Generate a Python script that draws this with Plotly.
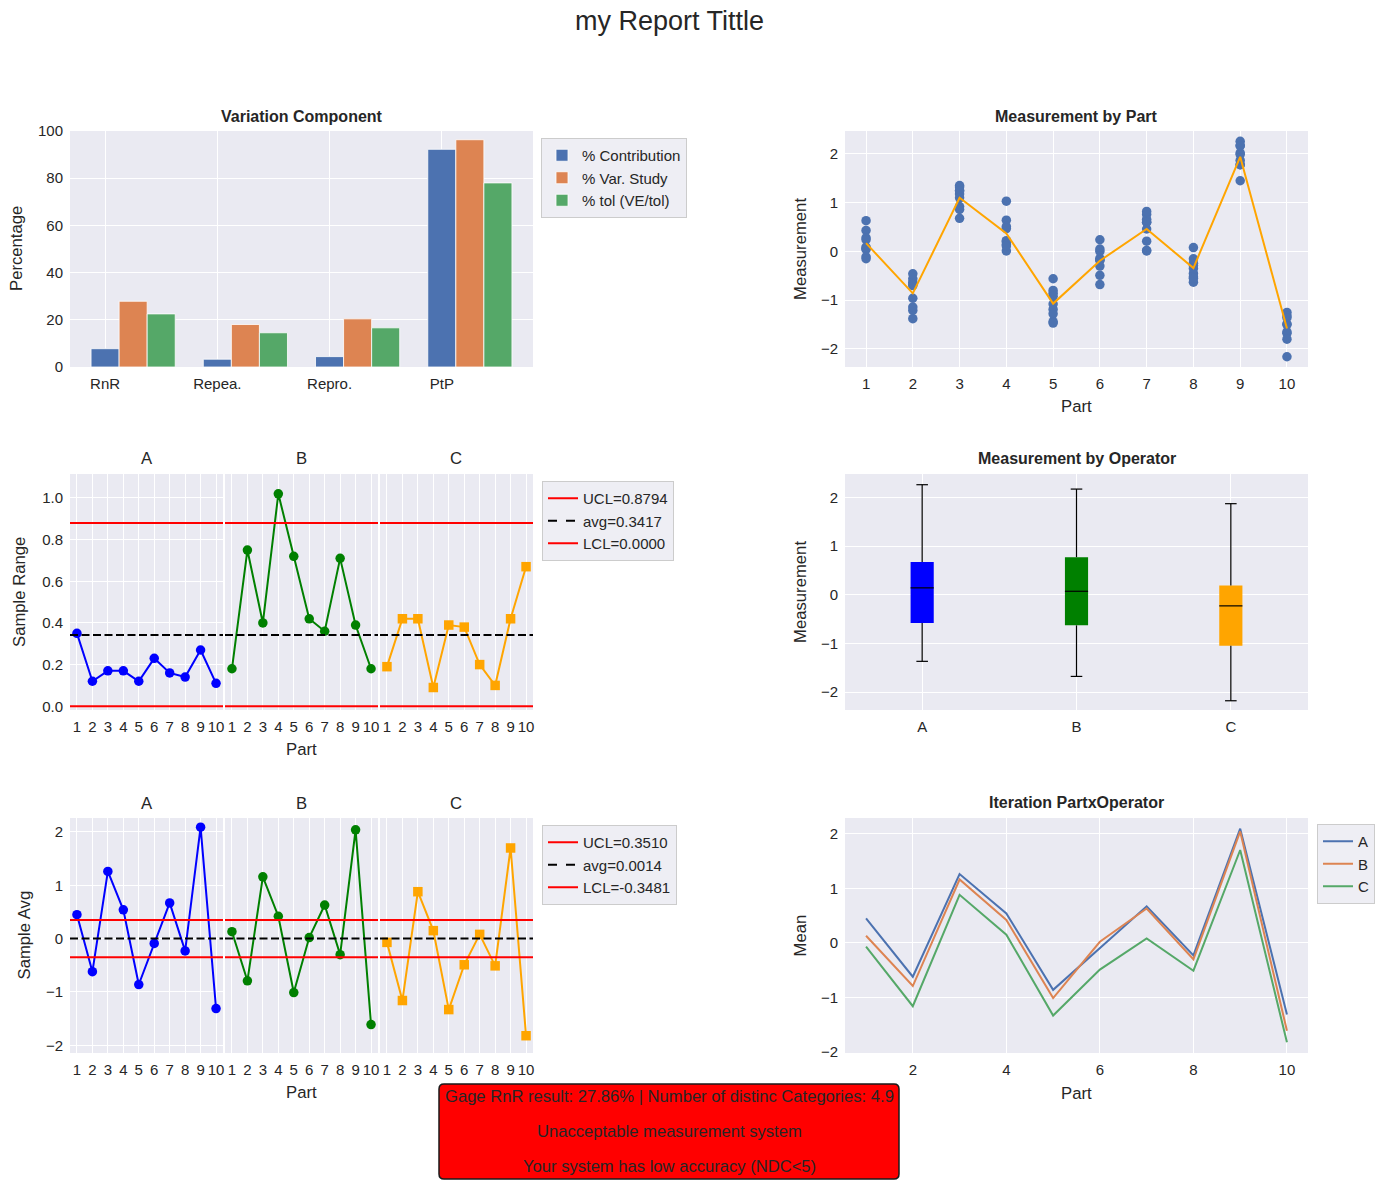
import numpy as np
import plotly.graph_objects as go

# ---------------- data ----------------
components = ["RnR", "Repea.", "Repro.", "PtP"]
pct_contribution = [7.76, 3.3, 4.4, 92.24]
pct_var_study = [27.86, 18.0, 20.4, 96.3]
pct_tolerance = [22.5, 14.5, 16.6, 78.0]

parts = [1, 2, 3, 4, 5, 6, 7, 8, 9, 10]
operators = ["A", "B", "C"]
n_trials = 3

meas_A = [0.63, 0.43, 0.28, -0.56, -0.63, -0.68, 1.35, 1.25, 1.18, 0.64, 0.51, 0.47,
          -0.80, -0.86, -0.92, 0.05, -0.14, -0.18, 0.76, 0.66, 0.60, -0.15, -0.24, -0.29,
          2.26, 2.02, 1.99, -1.25, -1.32, -1.36]
meas_B = [0.24, 0.09, 0.06, -0.46, -0.70, -1.21, 1.32, 1.24, 0.92, 1.03, 0.22, 0.01,
          -0.56, -1.19, -1.28, 0.24, 0.00, -0.18, 0.82, 0.60, 0.46, 0.08, -0.35, -0.63,
          2.17, 2.17, 1.78, -1.50, -1.65, -1.68]
meas_C = [0.04, -0.11, -0.15, -0.96, -1.14, -1.38, 1.10, 0.86, 0.68, 0.20, 0.14, 0.11,
          -1.08, -1.44, -1.47, -0.30, -0.49, -0.68, 0.21, 0.02, 0.01, -0.45, -0.52, -0.55,
          1.87, 1.78, 1.45, -1.49, -1.80, -2.16]
part_mean = [0.17, -0.86, 1.10, 0.37, -1.07, -0.19, 0.46, -0.34, 1.94, -1.58]

range_A = [0.35, 0.12, 0.17, 0.17, 0.12, 0.23, 0.16, 0.14, 0.27, 0.11]
range_B = [0.18, 0.75, 0.40, 1.02, 0.72, 0.42, 0.36, 0.71, 0.39, 0.18]
range_C = [0.19, 0.42, 0.42, 0.09, 0.39, 0.38, 0.20, 0.10, 0.42, 0.67]
range_ucl, range_avg, range_lcl = 0.8794, 0.3417, 0.0000

avg_A = [0.45, -0.62, 1.26, 0.54, -0.86, -0.09, 0.67, -0.23, 2.09, -1.31]
avg_B = [0.13, -0.79, 1.16, 0.42, -1.01, 0.02, 0.63, -0.30, 2.04, -1.61]
avg_C = [-0.07, -1.16, 0.88, 0.15, -1.33, -0.49, 0.08, -0.51, 1.70, -1.82]
avg_ucl, avg_center, avg_lcl = 0.3510, 0.0014, -0.3481

box_pos = [1, 2, 3]
box_low = [-1.37, -1.68, -2.18]
box_q1 = [-0.58, -0.63, -1.05]
box_median = [0.14, 0.07, -0.23]
box_q3 = [0.67, 0.77, 0.19]
box_high = [2.26, 2.17, 1.87]

gage_rnr = 27.86
ndc = 4.9

# ---------------- style ----------------
W, H = 1392, 1184
FONT = "Liberation Sans, Arial, sans-serif"
TXT = "#262626"
BG = "#eaeaf2"
DEEP = ["#4c72b0", "#dd8452", "#55a868"]
OP_COL = ["blue", "green", "orange"]
OP_SYM = ["circle", "circle", "square"]
TICK = 15
LAB = 16.7


def px_x(p):
    return p / W


def px_y(p):
    return 1 - p / H


layout = dict(
    width=W, height=H, margin=dict(l=0, r=0, t=0, b=0),
    paper_bgcolor="white", plot_bgcolor=BG,
    font=dict(family=FONT, color=TXT, size=TICK),
    barmode="overlay", showlegend=True,
)
annotations = []
shapes = []


def add_axes(n, xpx, ypx, xr, yr, xgrid=True, ygrid=True, yticks=True, **kw):
    xs = "" if n == 1 else str(n)
    base = dict(showline=False, zeroline=False, ticks="", gridcolor="white",
                gridwidth=1, automargin=False, tickfont=dict(size=TICK, color=TXT),
                ticklabelstandoff=6)
    xa = dict(base, domain=[px_x(xpx[0]), px_x(xpx[1])], range=xr, showgrid=xgrid,
              anchor="y" + xs)
    ya = dict(base, domain=[px_y(ypx[1]), px_y(ypx[0])], range=yr, showgrid=ygrid,
              anchor="x" + xs, showticklabels=yticks)
    xa.update(kw.get("xkw", {}))
    ya.update(kw.get("ykw", {}))
    layout["xaxis" + xs] = xa
    layout["yaxis" + xs] = ya


def text(x, y, s, size=LAB, angle=0, bold=False):
    annotations.append(dict(
        x=px_x(x), y=px_y(y), xref="paper", yref="paper", showarrow=False,
        text=("<b>%s</b>" % s) if bold else s, textangle=angle,
        font=dict(family=FONT, size=size, color=TXT),
        xanchor="center", yanchor="middle"))


COL_L = (70, 533)
COL_R = (845, 1308)
ROW1 = (131, 367)
ROW2 = (474, 710)
ROW3 = (818, 1053)
FACETS = [(70, 223), (225, 378), (380, 533)]

fig = go.Figure()

# ---- 1: Variation component bars ----
bar_w = 0.25
idx = np.arange(len(components))
add_axes(1, COL_L, ROW1, [-0.3125, 3.8125], [0, 100],
         xkw=dict(tickvals=list(idx), ticktext=components),
         ykw=dict(tickvals=[0, 20, 40, 60, 80, 100]))
for k, (vals, name) in enumerate(zip([pct_contribution, pct_var_study, pct_tolerance],
                                     ["% Contribution", "% Var. Study", "% tol (VE/tol)"])):
    fig.add_trace(go.Bar(x=idx + k * bar_w, y=vals, width=bar_w, name=name,
                         marker=dict(color=DEEP[k], line=dict(color="white", width=0.8)),
                         xaxis="x", yaxis="y", legend="legend"))
text(301.5, 116, "Variation Component", size=16, bold=True)
text(16, 249, "Percentage", angle=-90)

# ---- 2: Measurement by part ----
add_axes(2, COL_R, ROW1, [0.55, 10.45], [-2.37, 2.47],
         xkw=dict(tickvals=parts), ykw=dict(tickvals=[-2, -1, 0, 1, 2]))
all_meas = meas_A + meas_B + meas_C
x_meas = list(np.tile(np.repeat(parts, n_trials), len(operators)))
fig.add_trace(go.Scatter(x=x_meas, y=all_meas, mode="markers",
                         marker=dict(color=DEEP[0], size=9.5), showlegend=False,
                         xaxis="x2", yaxis="y2"))
fig.add_trace(go.Scatter(x=parts, y=part_mean, mode="lines",
                         line=dict(color="orange", width=2), showlegend=False,
                         xaxis="x2", yaxis="y2"))
text(1076.5, 116, "Measurement by Part", size=16, bold=True)
text(1076.5, 406, "Part")
text(800, 249, "Measurement", angle=-90)


def facet_block(first_n, rowpx, yr, ytickvals, yfmt, series, ucl, center, lcl,
                ytitle, ytitle_x, legend_name, legend_labels):
    for j, op in enumerate(operators):
        n = first_n + j
        ns = str(n)
        add_axes(n, FACETS[j], rowpx, [0.55, 10.45], yr, ygrid=(j == 0),
                 yticks=(j == 0),
                 xkw=dict(tickvals=parts),
                 ykw=dict(tickvals=ytickvals, tickformat=yfmt,
                          **({} if j == 0 else {"matches": "y" + str(first_n)})))
        fig.add_trace(go.Scatter(x=parts, y=series[j], mode="lines+markers",
                                 line=dict(color=OP_COL[j], width=2),
                                 marker=dict(color=OP_COL[j], size=9.5, symbol=OP_SYM[j]),
                                 showlegend=False, xaxis="x" + ns, yaxis="y" + ns))
        for val, col, dash in [(ucl, "red", "solid"), (center, "black", "8px,3.5px"),
                               (lcl, "red", "solid")]:
            shapes.append(dict(type="line", xref="x%s domain" % ns, yref="y" + ns,
                               x0=0, x1=1, y0=val, y1=val, layer="above",
                               line=dict(color=col, width=2, dash=dash)))
        text((FACETS[j][0] + FACETS[j][1]) / 2, rowpx[0] - 15, op, size=LAB)
    for val, col, dash, lab in [(ucl, "red", "solid", legend_labels[0]),
                                (center, "black", "dash", legend_labels[1]),
                                (lcl, "red", "solid", legend_labels[2])]:
        fig.add_trace(go.Scatter(x=[None], y=[None], mode="lines", name=lab,
                                 line=dict(color=col, width=2, dash=dash),
                                 xaxis="x" + str(first_n), yaxis="y" + str(first_n),
                                 legend=legend_name))
    text(301.5, rowpx[1] + 39, "Part")
    text(ytitle_x, (rowpx[0] + rowpx[1]) / 2, ytitle, angle=-90)


# ---- 3-5: range chart ----
facet_block(3, ROW2, [-0.018, 1.115], [0, 0.2, 0.4, 0.6, 0.8, 1.0], ".1f",
            [range_A, range_B, range_C], range_ucl, range_avg, range_lcl,
            "Sample Range", 19, "legend2",
            ["UCL=%.4f" % range_ucl, "avg=%.4f" % range_avg, "LCL=%.4f" % range_lcl])

# ---- 6: box by operator ----
add_axes(6, COL_R, ROW2, [0.5, 3.5], [-2.37, 2.48],
         xkw=dict(tickvals=box_pos, ticktext=operators),
         ykw=dict(tickvals=[-2, -1, 0, 1, 2]))
box_w = 0.15
wx, wy = [], []
for j in range(len(operators)):
    fig.add_trace(go.Box(x=[box_pos[j]], q1=[box_q1[j]], median=[box_median[j]],
                         q3=[box_q3[j]], lowerfence=[box_low[j]], upperfence=[box_high[j]],
                         width=box_w, fillcolor=OP_COL[j],
                         line=dict(color="rgba(0,0,0,0)", width=0), whiskerwidth=0.5,
                         showlegend=False, hoverinfo="skip", xaxis="x6", yaxis="y6"))
    p = box_pos[j]
    wx += [p, p, None, p, p, None,
           p - box_w / 4, p + box_w / 4, None, p - box_w / 4, p + box_w / 4, None,
           p - box_w / 2, p + box_w / 2, None]
    wy += [box_low[j], box_q1[j], None, box_q3[j], box_high[j], None,
           box_low[j], box_low[j], None, box_high[j], box_high[j], None,
           box_median[j], box_median[j], None]
fig.add_trace(go.Scatter(x=wx, y=wy, mode="lines", line=dict(color="black", width=1.2),
                         showlegend=False, hoverinfo="skip", xaxis="x6", yaxis="y6"))
text(1076.5, 459, "Measurement by Operator", size=16, bold=True)
text(800, 592, "Measurement", angle=-90)

# ---- 7-9: avg chart ----
facet_block(7, ROW3, [-2.144, 2.262], [-2, -1, 0, 1, 2], "d",
            [avg_A, avg_B, avg_C], avg_ucl, avg_center, avg_lcl,
            "Sample Avg", 24, "legend3",
            ["UCL=%.4f" % avg_ucl, "avg=%.4f" % avg_center, "LCL=%.4f" % avg_lcl])

# ---- 10: interaction ----
add_axes(10, COL_R, ROW3, [0.55, 10.45], [-2.016, 2.286],
         xkw=dict(tickvals=[2, 4, 6, 8, 10]), ykw=dict(tickvals=[-2, -1, 0, 1, 2]))
for j, (op, s) in enumerate(zip(operators, [avg_A, avg_B, avg_C])):
    fig.add_trace(go.Scatter(x=parts, y=s, mode="lines", name=op,
                             line=dict(color=DEEP[j], width=2),
                             xaxis="x10", yaxis="y10", legend="legend4"))
text(1076.5, 802, "Iteration PartxOperator", size=16, bold=True)
text(1076.5, 1093, "Part")
text(800, 935.5, "Mean", angle=-90)

# ---- legends ----
leg = dict(bgcolor="#eeeef4", bordercolor="#cccccc", borderwidth=1,
           font=dict(family=FONT, size=15, color=TXT), xanchor="left", yanchor="top",
           tracegroupgap=0)
layout["legend"] = dict(leg, x=px_x(541), y=px_y(138))
layout["legend2"] = dict(leg, x=px_x(542), y=px_y(481))
layout["legend3"] = dict(leg, x=px_x(542), y=px_y(825))
layout["legend4"] = dict(leg, x=px_x(1317), y=px_y(824))

# ---- suptitle ----
text(669, 21, "my Report Tittle", size=27)

# ---- result box ----
x0, x1 = px_x(439), px_x(899)
y0, y1 = px_y(1179), px_y(1084)
rx, ry = 5 / W, 5 / H
path = (f"M {x0+rx},{y1} L {x1-rx},{y1} Q {x1},{y1} {x1},{y1-ry} L {x1},{y0+ry} "
        f"Q {x1},{y0} {x1-rx},{y0} L {x0+rx},{y0} Q {x0},{y0} {x0},{y0+ry} "
        f"L {x0},{y1-ry} Q {x0},{y1} {x0+rx},{y1} Z")
shapes.append(dict(type="path", path=path, xref="paper", yref="paper",
                   fillcolor="red", line=dict(color="#1a1a1a", width=1.5), layer="above"))
text(669, 1096, "Gage RnR result: %.2f%% | Number of distinc Categories: %.1f" % (gage_rnr, ndc),
     size=16.6)
text(669, 1131, "Unacceptable measurement system", size=16.6)
text(669, 1166, "Your system has low accuracy (NDC<5)", size=16.6)

layout["annotations"] = annotations
layout["shapes"] = shapes
fig.update_layout(**layout)
fig.write_html("out.html")
